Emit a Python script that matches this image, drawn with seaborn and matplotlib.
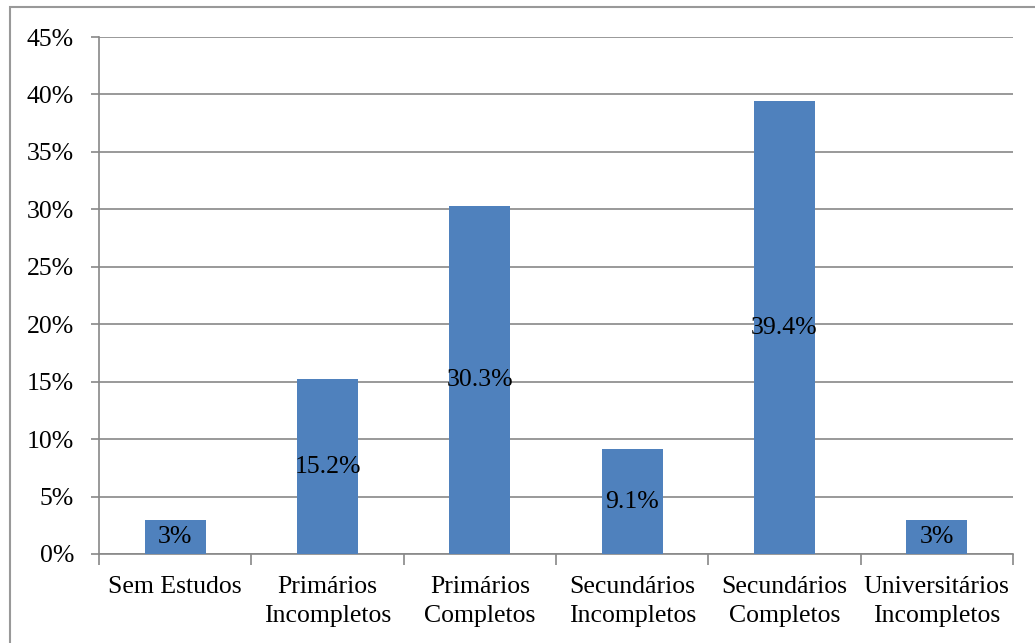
import matplotlib
matplotlib.use("Agg")
import matplotlib.pyplot as plt
import seaborn as sns
import pandas as pd
from matplotlib.patches import Rectangle
from matplotlib.ticker import FixedLocator, FuncFormatter

categories = ["Sem Estudos", "Primários\nIncompletos", "Primários\nCompletos",
              "Secundários\nIncompletos", "Secundários\nCompletos", "Universitários\nIncompletos"]
values = [3, 15.2, 30.3, 9.1, 39.4, 3]
value_labels = ["3%", "15.2%", "30.3%", "9.1%", "39.4%", "3%"]
y_ticks = [0, 5, 10, 15, 20, 25, 30, 35, 40, 45]

sns.set_theme(style="white")
plt.rcParams['font.family'] = ['Liberation Serif', 'DejaVu Serif']

FS = 18.5
df = pd.DataFrame({"cat": categories, "val": values})

fig = plt.figure(figsize=(10.35, 6.43), dpi=100)
ax = fig.add_axes([99/1035, 1 - 554/643, (1013 - 99)/1035, (554 - 37)/643])

sns.barplot(data=df, x="cat", y="val", color="#4F81BD", saturation=1, width=0.4, ax=ax,
            zorder=3, linewidth=0)

ax.set_ylim(0, 45)
ax.set_xlim(-0.5, len(categories) - 0.5)
ax.set_yticks(y_ticks)
ax.yaxis.set_major_formatter(FuncFormatter(lambda v, p: f"{int(v)}%"))
ax.yaxis.grid(True, color="#888888", linewidth=1.2, zorder=0)
ax.set_axisbelow(True)
ax.set_xlabel("")
ax.set_ylabel("")

ax.xaxis.set_minor_locator(FixedLocator([i - 0.5 for i in range(len(categories) + 1)]))
ax.tick_params(axis="x", which="major", length=0, pad=16, labelsize=FS, colors="black")
ax.tick_params(axis="x", which="minor", length=8, width=1.2, color="#888888", direction="out", bottom=True)
ax.tick_params(axis="y", which="major", length=6, width=1.2, color="#888888", direction="out",
               left=True, pad=12, labelsize=FS, labelcolor="black")
for t in ax.get_xticklabels():
    t.set_linespacing(1.42)

for s in ["top", "right"]:
    ax.spines[s].set_visible(False)
for s in ["left", "bottom"]:
    ax.spines[s].set_color("#888888")
    ax.spines[s].set_linewidth(1.2)

for i, (v, lab) in enumerate(zip(values, value_labels)):
    ax.text(i, v / 2, lab, ha="center", va="center", fontsize=FS, color="black", zorder=4)

fig.patches.append(Rectangle((10/1035, -0.05), 1.1, 1 - 7/643 + 0.05, transform=fig.transFigure,
                             fill=False, edgecolor="#999999", linewidth=1.5))

fig.savefig("out.png", dpi=100)
